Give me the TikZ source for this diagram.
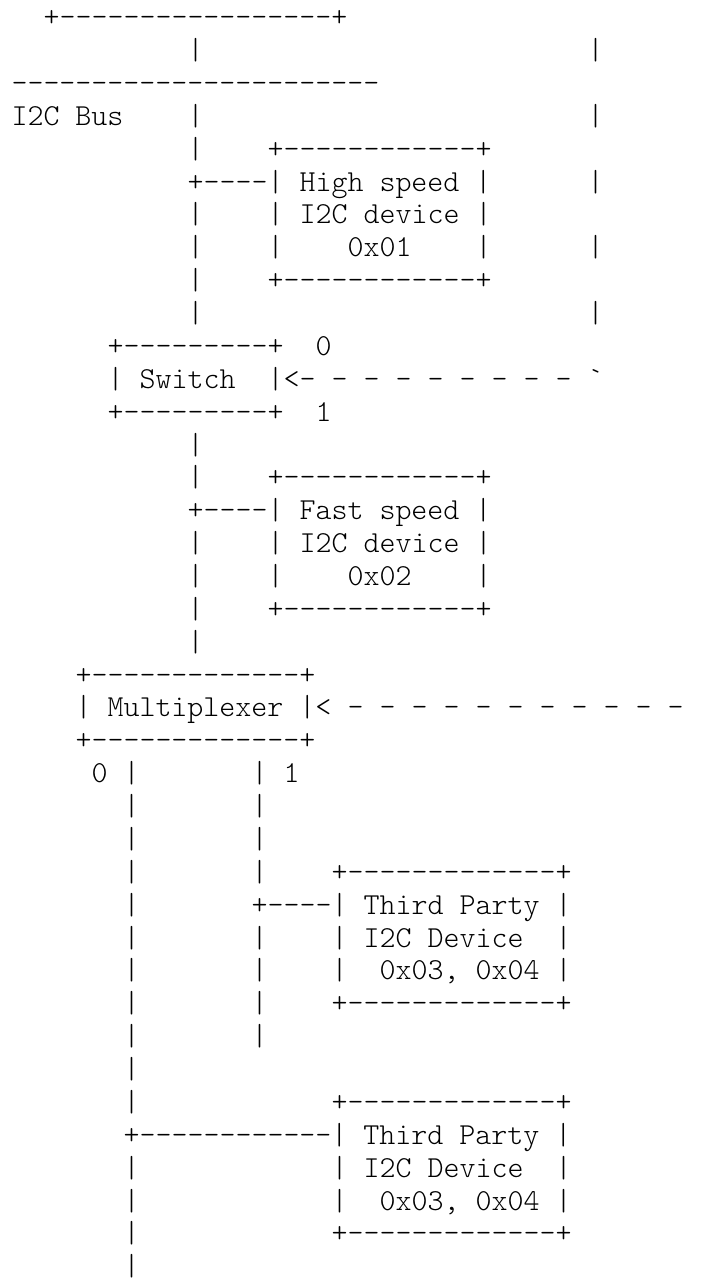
\documentclass[tikz,border=0pt]{standalone}
\usepackage{fontspec}
\setmonofont{lmmonolt10-regular.otf}
\tikzset{asc/.style={font=\ttfamily\frenchspacing\fontsize{22.857}{27}\selectfont, inner sep=0pt, outer sep=0pt, anchor=base west, text=black}}
% #1 = row, #2 = column, #3 = text
\newcommand\seg[3]{\node[asc] (r#1c#2) at ({11.5+16*#2},{26.7+32.87*(#1-1)}) {#3};}
\begin{document}
\begin{tikzpicture}[x=0.75pt,y=-0.75pt]
\useasboundingbox (0,0) rectangle (706,1278);
\fill[white] (0,0) rectangle (706,1278);
\clip (0,0) rectangle (706,1278);
% top bus
\seg{1}{2}{+-----------------+}
\seg{2}{11}{|}\seg{2}{36}{|}
\seg{3}{0}{-----------------------}
\seg{4}{0}{I2C Bus}\seg{4}{11}{|}\seg{4}{36}{|}
% high speed device
\seg{5}{11}{|}\seg{5}{16}{+------------+}
\seg{6}{11}{+----| High speed |}\seg{6}{36}{|}
\seg{7}{11}{|}\seg{7}{16}{| I2C device |}
\seg{8}{11}{|}\seg{8}{16}{|}\seg{8}{21}{0x01}\seg{8}{29}{|}\seg{8}{36}{|}
\seg{9}{11}{|}\seg{9}{16}{+------------+}
\seg{10}{11}{|}\seg{10}{36}{|}
% switch
\seg{11}{6}{+---------+}\seg{11}{19}{0}
\seg{12}{6}{| Switch}\seg{12}{16}{|<- - - - - - - - - \char"60}
\seg{13}{6}{+---------+}\seg{13}{19}{1}
% fast speed device
\seg{14}{11}{|}
\seg{15}{11}{|}\seg{15}{16}{+------------+}
\seg{16}{11}{+----| Fast speed |}
\seg{17}{11}{|}\seg{17}{16}{| I2C device |}
\seg{18}{11}{|}\seg{18}{16}{|}\seg{18}{21}{0x02}\seg{18}{29}{|}
\seg{19}{11}{|}\seg{19}{16}{+------------+}
\seg{20}{11}{|}
% multiplexer
\seg{21}{4}{+-------------+}
\seg{22}{4}{| Multiplexer |<}\seg{22}{21}{- - - - - - - - - - -}\seg{22}{43}{\char"27}
\seg{23}{4}{+-------------+}
\seg{24}{5}{0 |}\seg{24}{15}{| 1}
\seg{25}{7}{|}\seg{25}{15}{|}
\seg{26}{7}{|}\seg{26}{15}{|}
% third party device, channel 1
\seg{27}{7}{|}\seg{27}{15}{|}\seg{27}{20}{+-------------+}
\seg{28}{7}{|}\seg{28}{15}{+----| Third Party |}
\seg{29}{7}{|}\seg{29}{15}{|}\seg{29}{20}{| I2C Device}\seg{29}{34}{|}
\seg{30}{7}{|}\seg{30}{15}{|}\seg{30}{20}{|}\seg{30}{23}{0x03, 0x04 |}
\seg{31}{7}{|}\seg{31}{15}{|}\seg{31}{20}{+-------------+}
\seg{32}{7}{|}\seg{32}{15}{|}
\seg{33}{7}{|}
% third party device, channel 0
\seg{34}{7}{|}\seg{34}{20}{+-------------+}
\seg{35}{7}{+------------| Third Party |}
\seg{36}{7}{|}\seg{36}{20}{| I2C Device}\seg{36}{34}{|}
\seg{37}{7}{|}\seg{37}{20}{|}\seg{37}{23}{0x03, 0x04 |}
\seg{38}{7}{|}\seg{38}{20}{+-------------+}
\seg{39}{7}{|}
\end{tikzpicture}
\end{document}
